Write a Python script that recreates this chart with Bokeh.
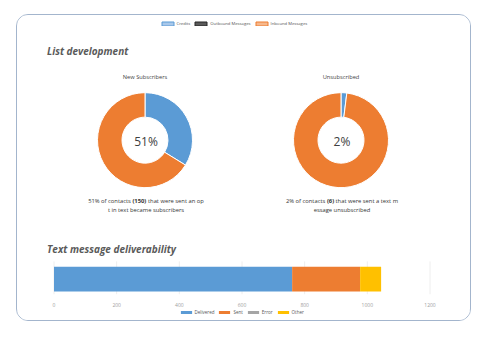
import numpy as np
from bokeh.plotting import figure
from bokeh.layouts import column
from bokeh.models import Range1d, LinearAxis, FixedTicker, Legend, LegendItem, Label
from bokeh.embed import file_html
from bokeh.resources import INLINE

# ---- header legend series ----
top_series = ["Credits", "Outbound Messages", "Inbound Messages"]
top_fill = ["#a9c8ea", "#5a5a5a", "#f6b88c"]
top_line = ["#5b9bd5", "#262626", "#ed7d31"]

# ---- list development donuts ----
donut_titles = ["New Subscribers", "Unsubscribed"]
new_sub_values = [150, 294]      # subscribers, contacts messaged
unsub_values = [6, 300]          # unsubscribed, contacts messaged
donut_pct = ["51%", "2%"]
caption_pre = ["51% of contacts", "2% of contacts"]
caption_bold = ["(150)", "(6)"]
caption_post = ["that were sent an op", "that were sent a text m"]
caption_line2 = ["t in text became subscribers", "essage unsubscribed"]
slice_colors = ["#5b9bd5", "#ed7d31"]

# ---- deliverability ----
status = ["Delivered", "Sent", "Error", "Other"]
status_counts = [760, 217, 0, 67]
status_colors = ["#5b9bd5", "#ed7d31", "#a5a5a5", "#ffc000"]
x_ticks = [0, 200, 400, 600, 800, 1000, 1200]

FONT = "Open Sans"
CAP = 5.8  # caption font size, px

# card box (page pixels) and the plots sitting inside its border
CARD_L, CARD_T, CARD_W, CARD_H, BORDER = 16, 14, 456, 308, 1.5
OX, OY = CARD_L + BORDER, CARD_T + BORDER
PW, PH = int(CARD_W - 2 * BORDER), int(CARD_H - 2 * BORDER)
FRAME_H = 282          # main frame ends just under the bar
AXIS_H = 12            # panel for the count axis
LEG_H = PH - FRAME_H - AXIS_H

# rough Open Sans advance widths (em) for laying out mixed-weight captions
EM = {" ": 0.26, "%": 0.83, "(": 0.3, ")": 0.3, "a": 0.56, "c": 0.49, "e": 0.56,
      "f": 0.34, "h": 0.61, "m": 0.93, "n": 0.61, "o": 0.6, "p": 0.61, "r": 0.41,
      "s": 0.48, "t": 0.35, "w": 0.8, "x": 0.52}


def text_w(s, size, bold=False):
    w = sum(EM.get(ch, 0.572) for ch in s) * size
    return w * (1.05 if bold else 1.0)


def legend(items, loc, gw, gh, size):
    return Legend(items=items, orientation="horizontal", location=loc,
                  glyph_width=gw, glyph_height=gh, label_height=gh, label_width=0,
                  padding=0, margin=0, spacing=3, label_standoff=2,
                  label_text_font=FONT, label_text_font_size=size,
                  label_text_color="#555555", border_line_color=None,
                  background_fill_alpha=0)


p = figure(width=PW, height=FRAME_H + AXIS_H, output_backend="svg", toolbar_location=None,
           x_range=Range1d(OX, OX + PW), y_range=Range1d(OY + FRAME_H, OY),
           x_axis_location=None, y_axis_location=None,
           min_border_left=0, min_border_right=0, min_border_top=0,
           min_border_bottom=AXIS_H)
p.grid.visible = False
p.outline_line_color = None
p.background_fill_color = "white"
p.border_fill_color = "white"

# header legend (series not shown in this view)
top_items = []
for name, fc, lc in zip(top_series, top_fill, top_line):
    r = p.quad(left=[np.nan], right=[np.nan], top=[np.nan], bottom=[np.nan],
               fill_color=fc, line_color=lc, line_width=1)
    top_items.append(LegendItem(label=name, renderers=[r]))
p.add_layout(legend(top_items, (160 - OX, FRAME_H - (29 - OY)), 15, 5, "4.2px"))

# section titles
for text, y in [("List development", 51), ("Text message deliverability", 252)]:
    p.add_layout(Label(x=47, y=y, text=text, text_font=FONT, text_font_style="bold italic",
                       text_font_size="10px", text_color="#5a5a5a", text_baseline="middle"))

# donuts
centers = [145, 341]
cy = 141.5
for i, vals in enumerate([new_sub_values, unsub_values]):
    cx = centers[i]
    frac = np.array(vals, dtype=float) / sum(vals)
    ends = np.pi / 2 - 2 * np.pi * np.cumsum(frac)
    starts = np.concatenate([[np.pi / 2], ends[:-1]])
    p.annular_wedge(x=cx, y=cy, inner_radius=23, outer_radius=47.5,
                    start_angle=starts, end_angle=ends, direction="clock",
                    fill_color=slice_colors, line_color="white", line_width=1)
    p.add_layout(Label(x=cx, y=78, text=donut_titles[i], text_font=FONT, text_font_size="5.7px",
                       text_color="#444444", text_align="center", text_baseline="middle"))
    p.add_layout(Label(x=cx + 1, y=cy + 1, text=donut_pct[i], text_font=FONT, text_font_size="12px",
                       text_color="#404040", text_align="center", text_baseline="middle"))

    # first caption line: regular / bold / regular pieces centred under the donut
    gap = text_w(" ", CAP)
    w_pre = text_w(caption_pre[i], CAP) + gap
    w_bold = text_w(caption_bold[i], CAP, bold=True) + gap
    w_post = text_w(caption_post[i], CAP)
    x0 = cx + 1 - (w_pre + w_bold + w_post) / 2
    for txt, x, style in [(caption_pre[i], x0, "normal"),
                          (caption_bold[i], x0 + w_pre, "bold"),
                          (caption_post[i], x0 + w_pre + w_bold, "normal")]:
        p.add_layout(Label(x=x, y=203, text=txt, text_font=FONT, text_font_size=f"{CAP}px",
                           text_font_style=style, text_color="#333333", text_align="left",
                           text_baseline="middle"))
    p.add_layout(Label(x=cx + 1, y=212, text=caption_line2[i], text_font=FONT,
                       text_font_size=f"{CAP}px", text_color="#333333", text_align="center",
                       text_baseline="middle"))

# deliverability bar on its own count scale
px_per = (430 - 54) / 1200
p.extra_x_ranges = {"bar": Range1d((OX - 54) / px_per, 1200 + (OX + PW - 430) / px_per)}
p.segment(x0=x_ticks, x1=x_ticks, y0=264, y1=OY + FRAME_H, line_color="#eeeeee",
          line_width=1, x_range_name="bar")
bar_data = {s: [v] for s, v in zip(status, status_counts)}
bars = p.hbar_stack(status, y=282, height=25, color=status_colors, line_color=None,
                    source=bar_data, x_range_name="bar")

ax = LinearAxis(x_range_name="bar", ticker=FixedTicker(ticks=x_ticks), bounds=(0, 1200),
                axis_line_color=None, major_tick_line_color=None, minor_tick_line_color=None,
                major_label_text_font=FONT, major_label_text_font_size="5px",
                major_label_text_color="#a0a0a0", major_label_standoff=2)
p.add_layout(ax, "below")

# status key underneath the count axis
key = figure(width=PW, height=LEG_H, output_backend="svg", toolbar_location=None,
             x_range=Range1d(0, 1), y_range=Range1d(0, 1),
             x_axis_location=None, y_axis_location=None, min_border=0)
key.grid.visible = False
key.outline_line_color = None
key.border_fill_color = "white"
key_items = []
for s, c in zip(status, status_colors):
    r = key.quad(left=[np.nan], right=[np.nan], top=[np.nan], bottom=[np.nan],
                 fill_color=c, line_color=None)
    key_items.append(LegendItem(label=s, renderers=[r]))
key_y0 = OY + FRAME_H + AXIS_H          # page y of the key figure's top edge
key.add_layout(legend(key_items, (179 - OX, LEG_H - (315 - key_y0)), 14, 4, "4.5px"))

# rounded card holding the dashboard
card = column(p, key, spacing=0, margin=(CARD_T, 0, 0, CARD_L),
              styles={"border": f"{BORDER}px solid #a3b5cd", "border-radius": "12px",
                      "background": "white", "overflow": "hidden"})
root = column(card, width=486, height=340)

open("out.html", "w").write(file_html(root, INLINE))
